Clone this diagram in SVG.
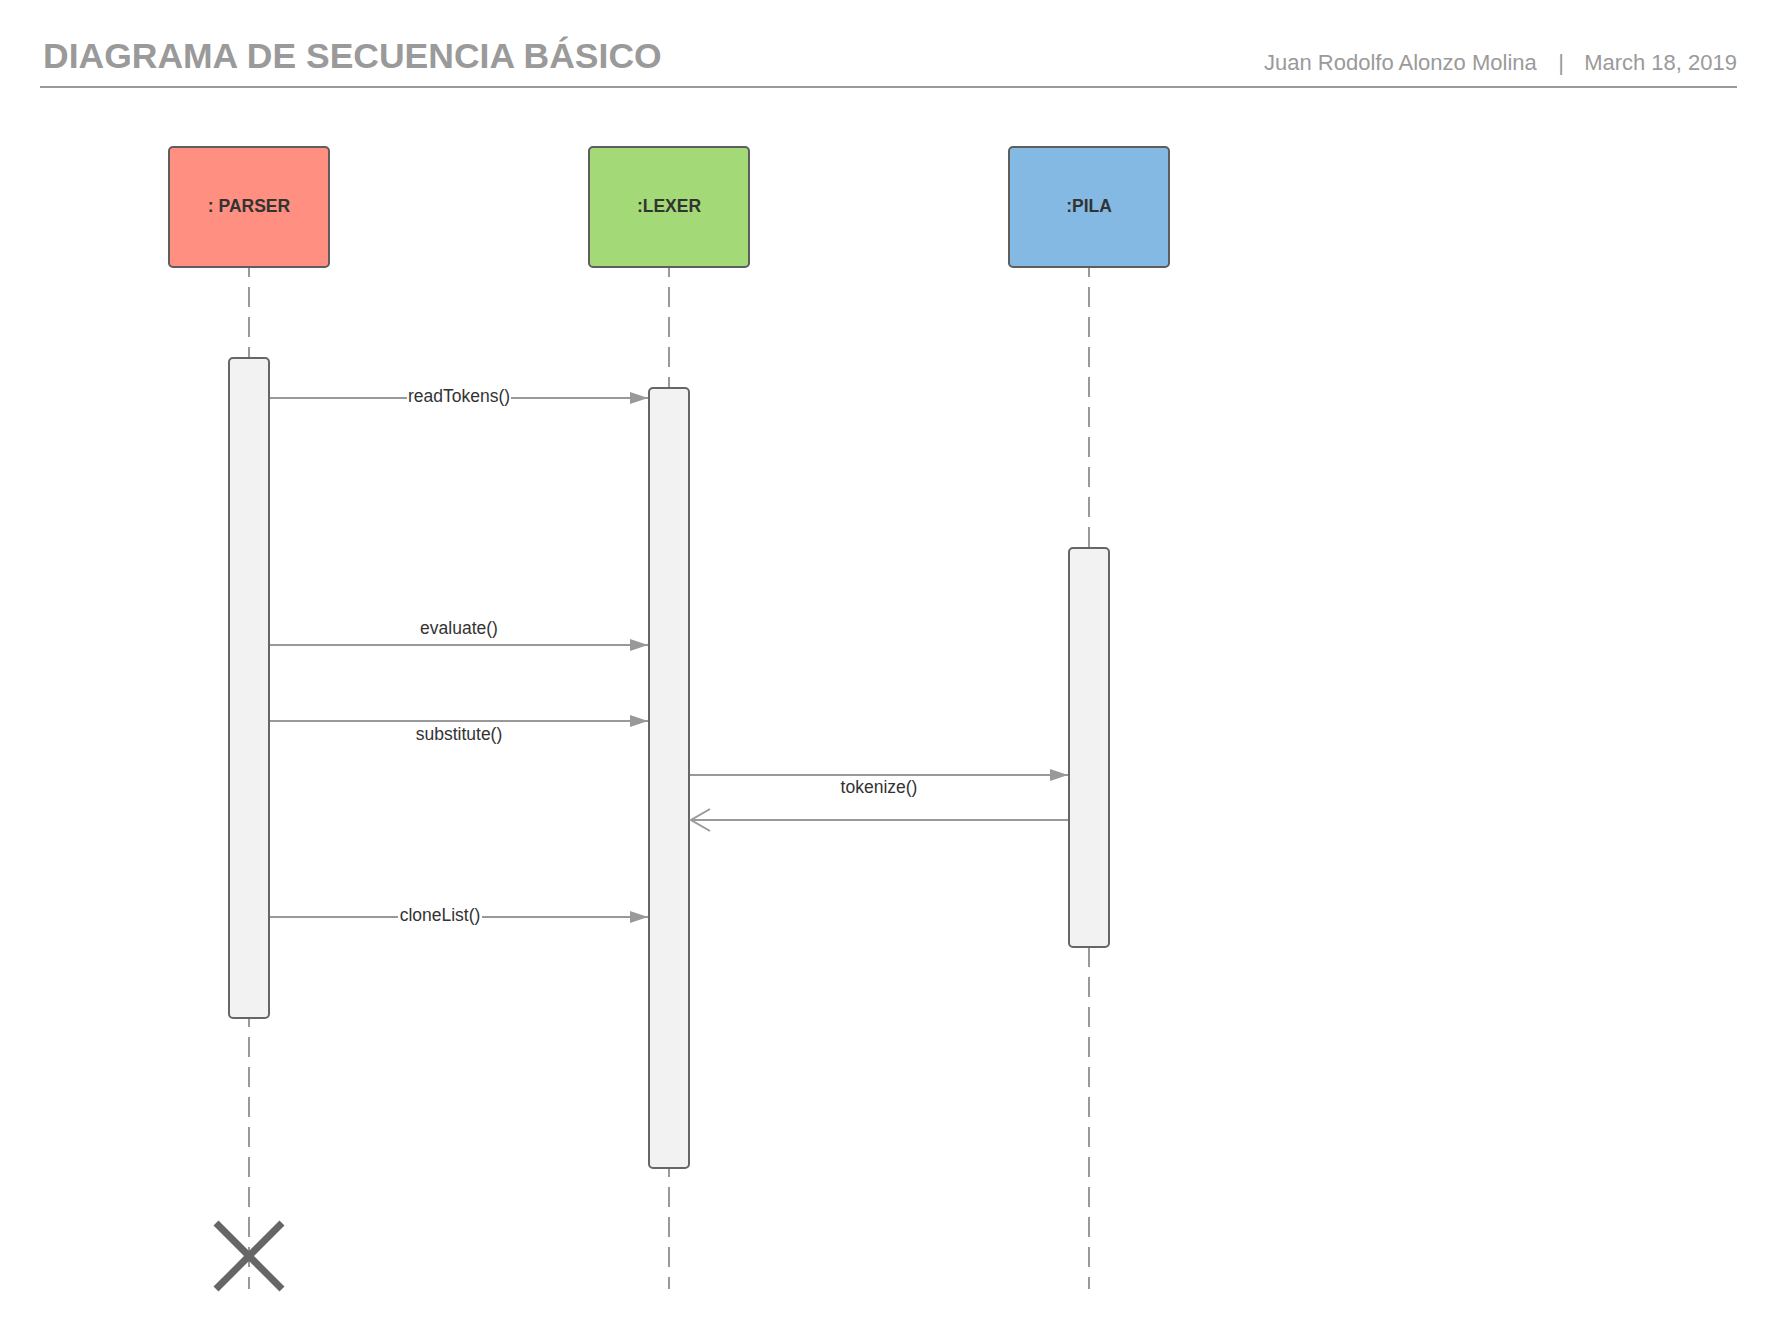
<svg xmlns="http://www.w3.org/2000/svg" width="1777" height="1336" viewBox="0 0 1777 1336">
<style>
.title{font-family:"Liberation Sans",Arial,sans-serif;font-weight:bold;font-size:35.5px;fill:#9a9a9a}
.meta{font-family:"Liberation Sans",Arial,sans-serif;font-size:22px;fill:#9a9a9a}
.head{stroke:#5e5e5e;stroke-width:2}
.hlabel{font-family:"Liberation Sans",Arial,sans-serif;font-weight:bold;font-size:17.5px;fill:#333;text-anchor:middle}
.life{stroke:#999;stroke-width:2;stroke-dasharray:20 10;stroke-dashoffset:11;fill:none}
.bar{fill:#f2f2f2;stroke:#666;stroke-width:2}
.msg{stroke:#999;stroke-width:2;fill:none}
.mlabel{font-family:"Liberation Sans",Arial,sans-serif;font-size:17.5px;fill:#333;text-anchor:middle}
</style>
<defs>
<marker id="filled" markerWidth="18" markerHeight="12" refX="18" refY="6" orient="auto" markerUnits="userSpaceOnUse">
<path d="M0,0 L18,6 L0,12 Z" fill="#999"/>
</marker>
<marker id="open" markerWidth="22" markerHeight="24" refX="20" refY="12" orient="auto" markerUnits="userSpaceOnUse">
<path d="M1,1 L20,12 L1,23" fill="none" stroke="#999" stroke-width="2"/>
</marker>
</defs>
<rect width="1777" height="1336" fill="#fff"/>
<g id="header">
<text class="title" x="43" y="68">DIAGRAMA DE SECUENCIA BÁSICO</text>
<text class="meta" x="1264" y="70">Juan Rodolfo Alonzo Molina</text>
<text class="meta" x="1561" y="70" text-anchor="middle">|</text>
<text class="meta" x="1737" y="70" text-anchor="end">March 18, 2019</text>
<line x1="40" y1="87" x2="1737" y2="87" stroke="#999" stroke-width="2"/>
</g>
<g id="lifelines">
<line class="life" x1="249" y1="268" x2="249" y2="1289"/>
<line class="life" x1="669" y1="268" x2="669" y2="1289"/>
<line class="life" x1="1089" y1="268" x2="1089" y2="1289"/>
</g>
<g id="parser">
<rect class="head" x="169" y="147" width="160" height="120" rx="4" fill="#ff8f80"/>
<text class="hlabel" x="249" y="212">: PARSER</text>
<rect class="bar" x="229" y="358" width="40" height="660" rx="4"/>
</g>
<g id="lexer">
<rect class="head" x="589" y="147" width="160" height="120" rx="4" fill="#a3d977"/>
<text class="hlabel" x="669" y="212">:LEXER</text>
<rect class="bar" x="649" y="388" width="40" height="780" rx="4"/>
</g>
<g id="pila">
<rect class="head" x="1009" y="147" width="160" height="120" rx="4" fill="#83b9e3"/>
<text class="hlabel" x="1089" y="212">:PILA</text>
<rect class="bar" x="1069" y="548" width="40" height="399" rx="4"/>
</g>
<g id="connectors">
<line class="msg" x1="270" y1="398" x2="648" y2="398" marker-end="url(#filled)"/>
<rect x="407" y="386" width="104" height="22" fill="#fff"/>
<text class="mlabel" x="459" y="402">readTokens()</text>
<line class="msg" x1="270" y1="645" x2="648" y2="645" marker-end="url(#filled)"/>
<text class="mlabel" x="459" y="634">evaluate()</text>
<line class="msg" x1="270" y1="721" x2="648" y2="721" marker-end="url(#filled)"/>
<text class="mlabel" x="459" y="740">substitute()</text>
<line class="msg" x1="690" y1="775" x2="1068" y2="775" marker-end="url(#filled)"/>
<text class="mlabel" x="879" y="793">tokenize()</text>
<line class="msg" x1="1068" y1="820" x2="691" y2="820" marker-end="url(#open)"/>
<line class="msg" x1="270" y1="917" x2="648" y2="917" marker-end="url(#filled)"/>
<rect x="398" y="905" width="84" height="22" fill="#fff"/>
<text class="mlabel" x="440" y="921">cloneList()</text>
</g>
<g id="destroy">
<line x1="216" y1="1223" x2="282" y2="1289" stroke="#666" stroke-width="7"/>
<line x1="282" y1="1223" x2="216" y2="1289" stroke="#666" stroke-width="7"/>
</g>
</svg>
